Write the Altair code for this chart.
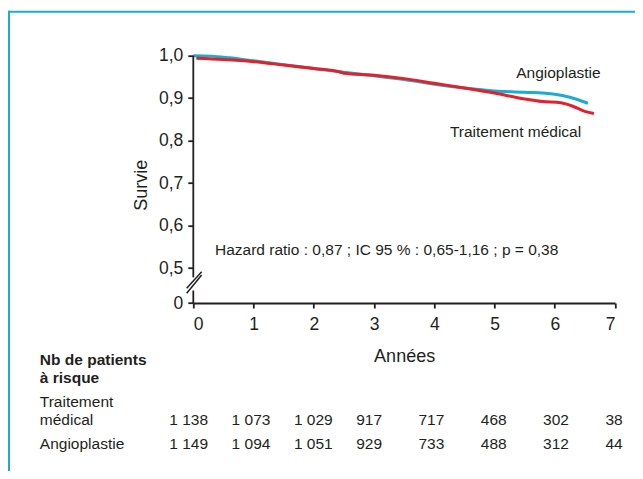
import altair as alt
import pandas as pd

# ---------------- data ----------------
angio_years = [0.0, 0.3, 0.6, 1.0, 1.5, 2.0, 2.5, 3.0, 3.5, 4.0, 4.5, 5.0, 5.5, 6.0, 6.25, 6.55]
angio_surv = [1.000, 0.999, 0.995, 0.988, 0.979, 0.970, 0.961, 0.953, 0.944, 0.933,
              0.924, 0.917, 0.914, 0.909, 0.902, 0.888]

med_years = [0.05, 0.5, 1.0, 1.5, 2.0, 2.45, 2.5, 3.0, 3.5, 4.0, 4.5, 5.0, 5.5, 5.8,
             6.1, 6.3, 6.5, 6.65]
med_surv = [0.994, 0.991, 0.986, 0.978, 0.970, 0.961, 0.9585, 0.954, 0.946, 0.935,
            0.924, 0.912, 0.898, 0.892, 0.889, 0.881, 0.869, 0.864]

risk_years = [0, 1, 2, 3, 4, 5, 6, 7]
risk_medical = [1138, 1073, 1029, 917, 717, 468, 302, 38]
risk_angio = [1149, 1094, 1051, 929, 733, 488, 312, 44]
risk_label_medical = "Traitement\nmédical"
risk_label_angio = "Angioplastie"
risk_header = "Nb de patients\nà risque"

x_ticks = [0, 1, 2, 3, 4, 5, 6, 7]
y_ticks = [0.5, 0.6, 0.7, 0.8, 0.9, 1.0]
BREAK_ZERO = 0.4176  # position at which "0" sits below the axis break

hazard_text = "Hazard ratio : 0,87 ; IC 95 % : 0,65-1,16 ; p = 0,38"

# ---------------- styles ----------------
CYAN = "#1aadd1"
RED = "#e4202b"
INK = "#231f20"
FONT = "Liberation Sans"


def fmt(n):
    return f"{n:,}".replace(",", " ")


angio_df = pd.DataFrame({"year": angio_years, "surv": angio_surv})
med_df = pd.DataFrame({"year": med_years, "surv": med_surv})

xs = alt.Scale(domain=[0, 7], nice=False, zero=False)
ys = alt.Scale(domain=[BREAK_ZERO, 1.0], nice=False, zero=False)

xaxis = alt.Axis(
    values=x_ticks, format="d", title="Années", grid=False,
    labelFontSize=17.5, titleFontSize=18, labelPadding=7, tickSize=5,
    tickWidth=1.8, domainWidth=1.8, domainColor=INK, tickColor=INK,
    labelColor=INK, titleColor=INK, titleFontWeight="normal",
    titleY=53, titleBaseline="middle", labelFont=FONT, titleFont=FONT,
)
yaxis = alt.Axis(
    values=[BREAK_ZERO] + y_ticks, title="Survie", grid=False, domain=False,
    labelExpr="datum.value < 0.45 ? '0' : replace(format(datum.value, '.1f'), '.', ',')",
    labelFontSize=17.5, titleFontSize=18, labelPadding=5, tickSize=5.5,
    tickWidth=1.8, tickColor=INK, labelColor=INK, titleColor=INK,
    titleFontWeight="normal", titleX=-52, titleY=129, titleAlign="center",
    titleBaseline="middle", labelFont=FONT, titleFont=FONT,
)

one = pd.DataFrame({"k": [0]})

angio_line = alt.Chart(angio_df).mark_line(
    color=CYAN, strokeWidth=3, interpolate="monotone"
).encode(
    x=alt.X("year:Q", scale=xs, axis=xaxis),
    y=alt.Y("surv:Q", scale=ys, axis=yaxis),
)
med_line = alt.Chart(med_df).mark_line(
    color=RED, strokeWidth=3, interpolate="monotone"
).encode(
    x=alt.X("year:Q", scale=xs, axis=xaxis),
    y=alt.Y("surv:Q", scale=ys, axis=yaxis),
)

# y axis line, drawn in two pieces around the break
seg_df = pd.DataFrame({"y": [1.0, 0.447], "y2": [0.478, BREAK_ZERO]})
y_domain = alt.Chart(seg_df).mark_rule(color=INK, strokeWidth=1.8).encode(
    x=alt.XDatum(0, scale=xs), y=alt.Y("y:Q", scale=ys), y2="y2:Q"
)
slash1 = alt.Chart(one).mark_rule(color=INK, strokeWidth=1.5).encode(
    x=alt.XDatum(-0.11, scale=xs), x2=alt.X2Datum(0.139),
    y=alt.YDatum(0.4522, scale=ys), y2=alt.Y2Datum(0.4913),
)
slash2 = alt.Chart(one).mark_rule(color=INK, strokeWidth=1.5).encode(
    x=alt.XDatum(-0.11, scale=xs), x2=alt.X2Datum(0.139),
    y=alt.YDatum(0.4404, scale=ys), y2=alt.Y2Datum(0.4835),
)

txt = dict(font=FONT, color=INK, align="left", baseline="middle")
lab_angio = alt.Chart(one).mark_text(text="Angioplastie", fontSize=15.5, **txt).encode(
    x=alt.XDatum(5.36, scale=xs), y=alt.YDatum(0.9585, scale=ys)
)
lab_med = alt.Chart(one).mark_text(text="Traitement médical", fontSize=15.5, **txt).encode(
    x=alt.XDatum(4.26, scale=xs), y=alt.YDatum(0.821, scale=ys)
)
lab_hr = alt.Chart(one).mark_text(text=hazard_text, fontSize=15.5, **txt).encode(
    x=alt.XDatum(0.36, scale=xs), y=alt.YDatum(0.5424, scale=ys)
)

main = alt.layer(angio_line, med_line, y_domain, slash1, slash2,
                 lab_angio, lab_med, lab_hr)

# ---------------- risk table ----------------
rows = []
for i, yr in enumerate(risk_years):
    rows.append({"col": yr, "row": 1, "text": fmt(risk_medical[i])})
    rows.append({"col": yr, "row": 2, "text": fmt(risk_angio[i])})
table_df = pd.DataFrame(rows)

col_scale = alt.Scale(domain=[0, 7], range=[-24.0, 412.1], nice=False, zero=False)
row_scale = alt.Scale(domain=[1, 2], range=[371.8, 396.4], nice=False, zero=False)

tbl = dict(font=FONT, color=INK, fontSize=15.5, align="left", baseline="bottom")

nums = alt.Chart(table_df).mark_text(**tbl).encode(
    x=alt.X("col:Q", scale=col_scale, axis=None),
    y=alt.Y("row:Q", scale=row_scale, axis=None),
    text="text:N",
)
row_label_med = alt.Chart(one).mark_text(
    text=risk_label_medical, lineBreak="\n", lineHeight=18, dy=-18, **tbl
).encode(x=alt.value(-153.5), y=alt.YDatum(1, scale=row_scale, axis=None))
row_label_angio = alt.Chart(one).mark_text(text=risk_label_angio, **tbl).encode(
    x=alt.value(-153.5), y=alt.YDatum(2, scale=row_scale, axis=None)
)
header = alt.Chart(one).mark_text(
    text=risk_header, fontWeight="bold", lineBreak="\n", lineHeight=18.4, **tbl
).encode(x=alt.value(-153.5), y=alt.value(311.8))

# frame (top and left border of the figure)
frame_top = alt.Chart(one).mark_rule(color=CYAN, strokeWidth=2).encode(
    x=alt.value(-185.3), x2=alt.value(460), y=alt.value(-44), y2=alt.value(-44)
)
frame_left = alt.Chart(one).mark_rule(color=CYAN, strokeWidth=2).encode(
    x=alt.value(-184.3), x2=alt.value(-184.3), y=alt.value(-45), y2=alt.value(430)
)

table = alt.layer(nums, row_label_med, row_label_angio, header, frame_top, frame_left)

chart = alt.layer(main, table).resolve_scale(
    x="independent", y="independent"
).properties(
    width=421.7, height=247.3,
    autosize=alt.AutoSizeParams(type="none"),
    padding={"left": 185.3, "top": 47.7, "right": 20, "bottom": 168},
).configure_view(stroke=None)

chart.save("out.html", embed_options={"renderer": "svg", "actions": False})
